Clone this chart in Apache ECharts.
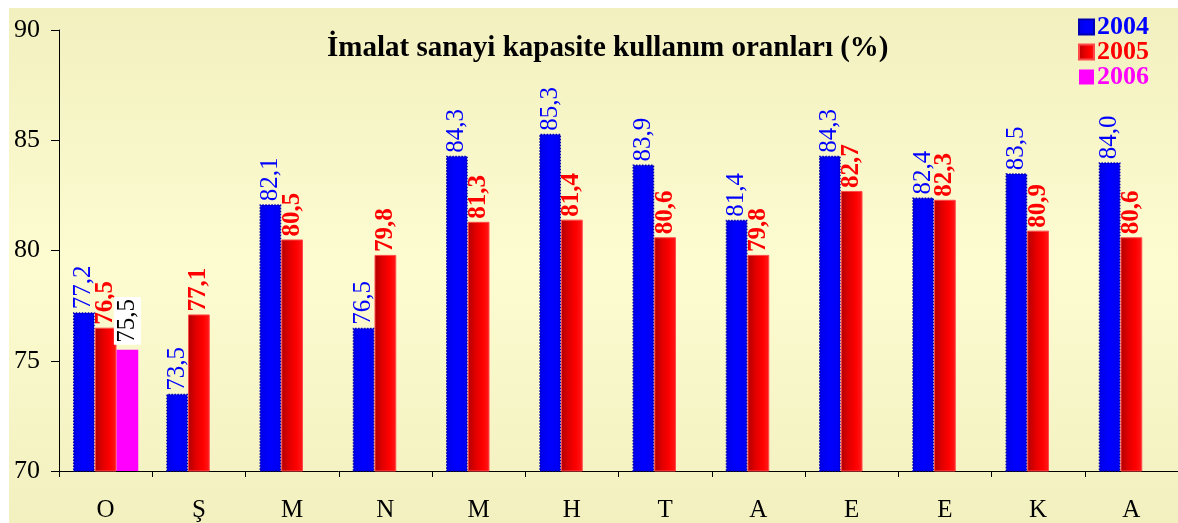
<!DOCTYPE html>
<html><head><meta charset="utf-8">
<script src="https://cdn.jsdelivr.net/npm/echarts@6/dist/echarts.min.js"></script>
<style>html,body{margin:0;padding:0;background:#fff;}#c{position:absolute;left:9px;top:8px;width:1169px;height:515px;}</style>
</head><body><div id="c"></div>
<script>
const categories = ['O','Ş','M','N','M','H','T','A','E','E','K','A'];
const s2004 = [77.2,73.5,82.1,76.5,84.3,85.3,83.9,81.4,84.3,82.4,83.5,84.0];
const s2005 = [76.5,77.1,80.5,79.8,81.3,81.4,80.6,79.8,82.7,82.3,80.9,80.6];
const s2006 = [75.5,null,null,null,null,null,null,null,null,null,null,null];
const yTicks = {min:70,max:90,interval:5};
const titleText = 'İmalat sanayi kapasite kullanım oranları (%)';

const serif = '"Liberation Serif","DejaVu Serif",serif';
const fmt = p => (p.value==null? '' : Number(p.value).toFixed(1).replace('.', ','));
function lbl(color, weight, extra){
  return Object.assign({show:true, position:'top', rotate:90, align:'left', verticalAlign:'middle',
    distance:3, formatter:fmt, fontFamily:serif, fontSize:25, color:color, fontWeight:weight}, extra||{});
}
const chart = echarts.init(document.getElementById('c'));
chart.setOption({
  backgroundColor:{type:'linear',x:0,y:0,x2:0,y2:1,colorStops:[
    {offset:0,color:'#f2f0bf'},{offset:0.5,color:'#fdfcd1'},{offset:1,color:'#f2f0bf'}]},
  animation:false,
  title:{text:titleText,left:318,top:26,padding:0,
    textStyle:{fontFamily:serif,fontSize:29,fontWeight:'bold',color:'#000'}},
  legend:{orient:'vertical',left:1069,top:6,itemWidth:15,itemHeight:15,itemGap:-1,icon:'rect',padding:0,
    data:[{name:'2004',textStyle:{color:'#0000ff'}},{name:'2005',textStyle:{color:'#ff0000'}},{name:'2006',textStyle:{color:'#ff00ff'}}],
    textStyle:{fontFamily:serif,fontSize:26,fontWeight:'bold',lineHeight:25,padding:[0,0,0,-2]}},
  grid:{left:50,right:0,top:22,bottom:49,containLabel:false},
  xAxis:{type:'category',data:categories,boundaryGap:true,
    axisLine:{lineStyle:{color:'#000',width:1}},
    axisTick:{show:true,length:6,alignWithLabel:false,lineStyle:{color:'#000'}},
    axisLabel:{fontFamily:serif,fontSize:25,color:'#000',margin:27}},
  yAxis:{type:'value',min:yTicks.min,max:yTicks.max,interval:yTicks.interval,
    axisLine:{show:true,lineStyle:{color:'#000',width:1}},
    axisTick:{show:true,length:8,lineStyle:{color:'#000'}},
    splitLine:{show:false},
    axisLabel:{fontFamily:serif,fontSize:26,color:'#000',margin:19}},
  series:[
    {name:'2004',type:'bar',data:s2004,barGap:'0%',barCategoryGap:'30%',
      itemStyle:{color:{type:'linear',x:0,y:0,x2:1,y2:0,colorStops:[{offset:0,color:'#0000e6'},{offset:0.5,color:'#0000ff'},{offset:1,color:'#0000ee'}]},
        borderColor:'#0000b0',borderWidth:1.5,borderType:'dotted'},
      label:lbl('#0000ff','normal')},
    {name:'2005',type:'bar',data:s2005,
      itemStyle:{color:{type:'linear',x:0,y:0,x2:1,y2:0,colorStops:[{offset:0,color:'#b00000'},{offset:0.35,color:'#e00000'},{offset:0.7,color:'#ff0000'},{offset:1,color:'#ff1a1a'}]},
        borderColor:'#ff4a4a',borderWidth:1},
      label:lbl('#ff0000','bold')},
    {name:'2006',type:'bar',data:s2006,
      itemStyle:{color:'#ff00ff'},
      label:lbl('#000000','normal',{backgroundColor:'#ffffff',padding:[1,2,1,2],distance:5})}
  ]
});
</script></body></html>
